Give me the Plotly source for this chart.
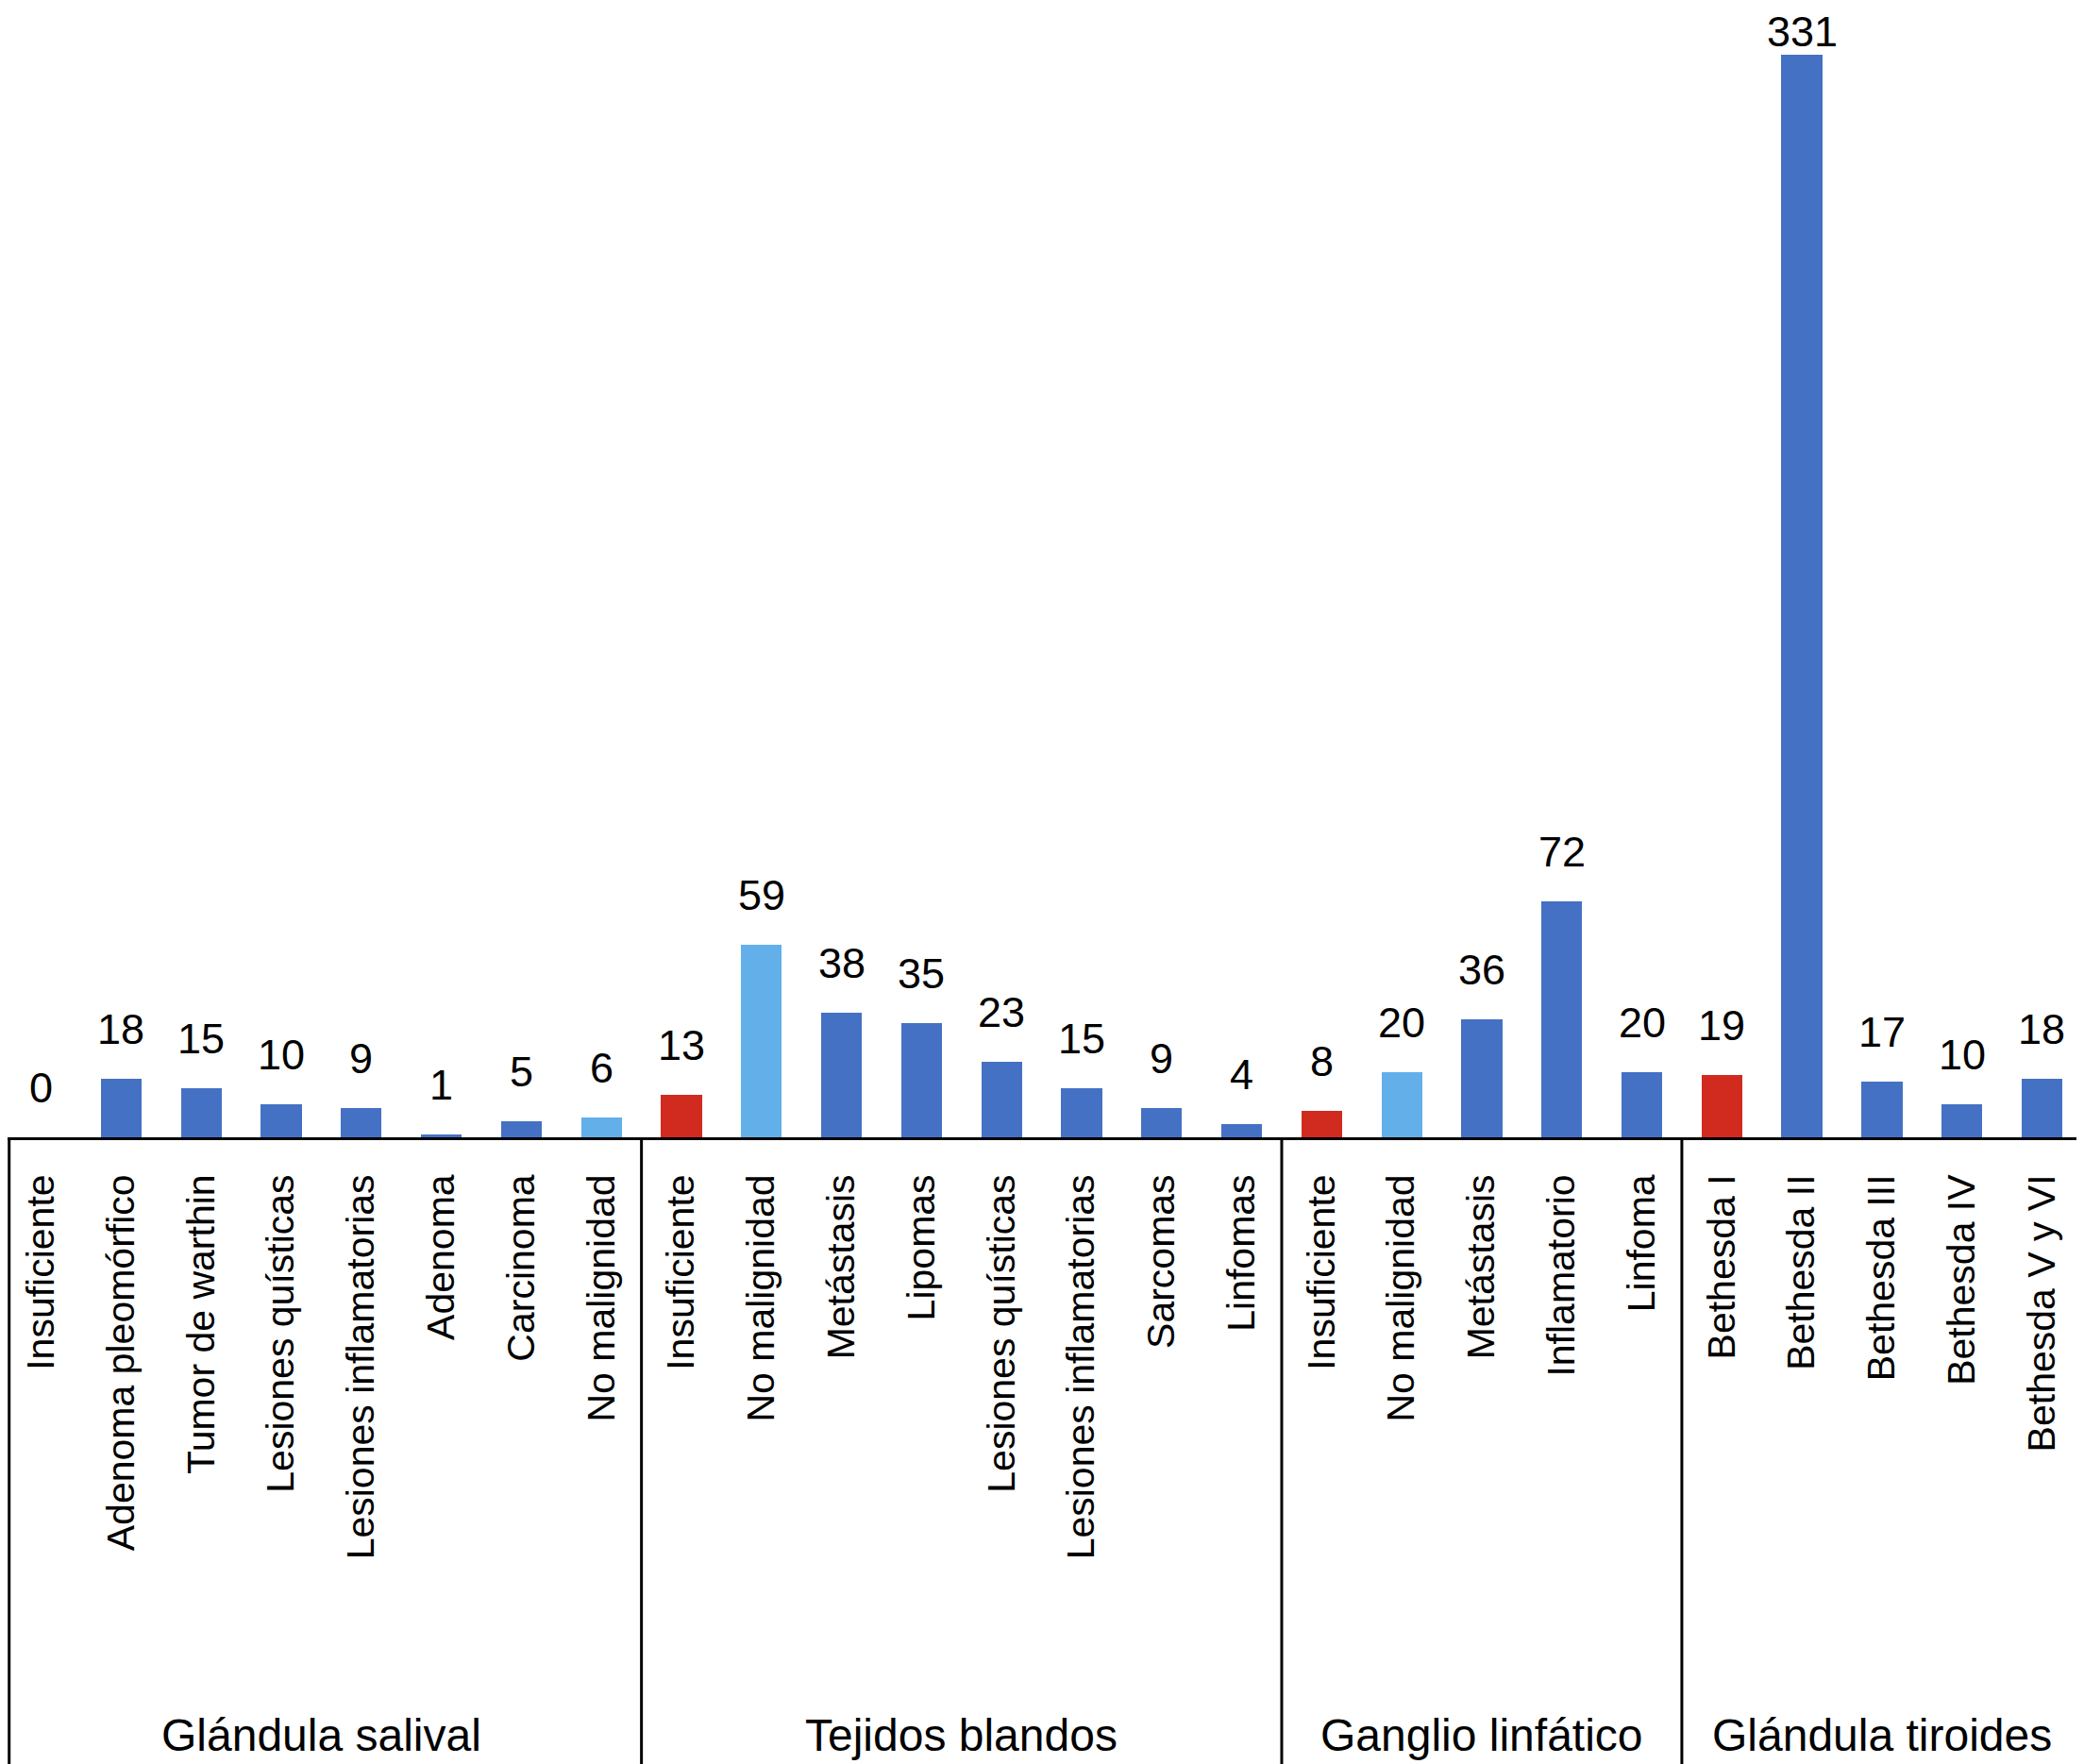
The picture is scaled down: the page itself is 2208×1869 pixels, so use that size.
import plotly.graph_objects as go

# Datos del gráfico
grupos = ["Glándula salival", "Tejidos blandos", "Ganglio linfático", "Glándula tiroides"]

categorias = [
    "Insuficiente", "Adenoma pleomórfico", "Tumor de warthin", "Lesiones quísticas",
    "Lesiones inflamatorias", "Adenoma", "Carcinoma", "No malignidad",
    "Insuficiente", "No malignidad", "Metástasis", "Lipomas", "Lesiones quísticas",
    "Lesiones inflamatorias", "Sarcomas", "Linfomas",
    "Insuficiente", "No malignidad", "Metástasis", "Inflamatorio", "Linfoma",
    "Bethesda I", "Bethesda II", "Bethesda III", "Bethesda IV", "Bethesda V y VI",
]
valores = [0, 18, 15, 10, 9, 1, 5, 6,
           13, 59, 38, 35, 23, 15, 9, 4,
           8, 20, 36, 72, 20,
           19, 331, 17, 10, 18]
tamano_grupo = [8, 8, 5, 5]

# tipo de barra: insuficiente / no maligno / resto
tipos = ["ins", "az", "az", "az", "az", "az", "az", "cl",
         "ins", "cl", "az", "az", "az", "az", "az", "az",
         "ins", "cl", "az", "az", "az",
         "ins", "az", "az", "az", "az"]
colores_tipo = {"ins": "#D12A1F", "cl": "#63AFEA", "az": "#4571C4"}

x = list(range(len(valores)))
colores = [colores_tipo[t] for t in tipos]

W, H = 2200, 1861
MB = 664
alto_plot = H - MB
y_max = 345.4
x_rango = [-0.421, 25.525]
px_unidad = alto_plot / y_max

fig = go.Figure()
fig.add_trace(go.Bar(x=x, y=valores, marker_color=colores, width=0.51,
                     marker_line_width=0, showlegend=False))

# etiquetas de valor (se bajan si no caben arriba)
for xi, v in zip(x, valores):
    desp = min(25, (y_max - v) * px_unidad - 53)
    fig.add_annotation(x=xi, y=v, text=str(v), showarrow=False, yanchor="bottom",
                       yshift=desp, font=dict(size=45, color="black"))

# separadores y nombres de grupo
limites = [-0.5]
for n in tamano_grupo:
    limites.append(limites[-1] + n)
for b in limites:
    bx = max(b, x_rango[0] + 0.02)
    fig.add_shape(type="line", xref="x", yref="paper", x0=bx, x1=bx, y0=0, y1=-0.6,
                  line=dict(color="black", width=3))
for g, a, b in zip(grupos, limites[:-1], limites[1:]):
    fig.add_annotation(x=(a + b) / 2, y=-0.529, xref="x", yref="paper", text=g,
                       showarrow=False, yanchor="middle", font=dict(size=48, color="black"))

fig.update_layout(
    width=W, height=H,
    margin=dict(l=0, r=0, t=0, b=MB),
    plot_bgcolor="white", paper_bgcolor="white",
    font=dict(family="Liberation Sans, Arial, sans-serif", color="black"),
    bargap=0,
)
fig.update_xaxes(range=x_rango, tickvals=x, ticktext=categorias, tickangle=-90,
                 tickfont=dict(size=41), showline=True, linecolor="black", linewidth=3,
                 showgrid=False, zeroline=False, ticks="", ticklabelstandoff=20)
fig.update_yaxes(range=[0, y_max], visible=False, showgrid=False, zeroline=False)

fig.write_html("out.html")
